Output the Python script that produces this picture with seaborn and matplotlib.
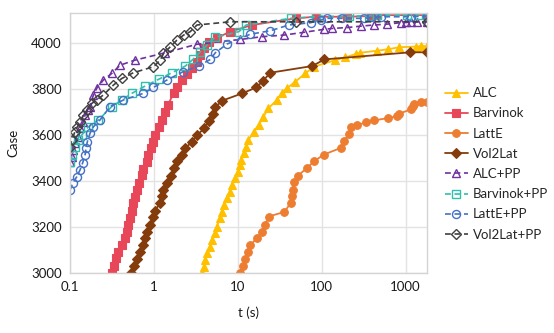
import matplotlib
matplotlib.use("Agg")
import matplotlib.pyplot as plt
import seaborn as sns
import pandas as pd

# Solver time (s) vs. number of solved cases
alc_t = [3.74, 3.91, 4.09, 4.35, 4.68, 4.99, 5.36, 5.61, 6.13, 6.41, 6.83, 7.34, 7.99, 8.52,
         9.32, 9.93, 10.5, 11.0, 11.7, 12.5, 13.4, 15.4, 17.7, 20.2, 23.2, 29.2, 33.6, 38.5,
         48.5, 63.9, 80.7, 146, 192, 253, 285, 462, 609, 840, 1330, 1530, 1800]
alc_v = [3000, 3026, 3055, 3085, 3111, 3143, 3172, 3201, 3237, 3266, 3295, 3324, 3353, 3382,
         3411, 3440, 3469, 3491, 3520, 3549, 3578, 3615, 3644, 3680, 3717, 3753, 3785, 3804,
         3833, 3869, 3898, 3927, 3939, 3953, 3959, 3968, 3974, 3983, 3986, 3988, 3988]

barvinok_t = [0.320, 0.336, 0.352, 0.378, 0.415, 0.454, 0.476, 0.497, 0.521, 0.546, 0.570,
              0.598, 0.627, 0.667, 0.719, 0.751, 0.825, 0.862, 0.920, 0.973, 1.036, 1.135,
              1.246, 1.364, 1.469, 1.714, 1.882, 2.16, 2.48, 2.84, 3.26, 3.57, 3.91, 4.49,
              5.66, 8.0, 14.8, 48.8, 84.5, 202, 384, 462, 1800]
barvinok_v = [3000, 3031, 3063, 3092, 3121, 3150, 3179, 3208, 3237, 3270, 3303, 3331, 3360,
              3392, 3426, 3452, 3484, 3513, 3542, 3571, 3600, 3634, 3666, 3702, 3731, 3782,
              3808, 3840, 3866, 3891, 3920, 3949, 3978, 4007, 4024, 4050, 4080, 4109, 4116,
              4116, 4119, 4123, 4123]

latte_t = [10.7, 11.5, 12.3, 13.4, 14.1, 16.9, 19.4, 21.3, 23.3, 36.0, 42.5, 44.6, 45.3,
           46.6, 52.1, 66.1, 81.3, 106, 169, 185, 212, 222, 267, 337, 423, 612, 794, 846,
           1160, 1220, 1273, 1530, 1800]
latte_v = [3000, 3029, 3058, 3092, 3121, 3150, 3179, 3209, 3245, 3265, 3303, 3333, 3362,
           3394, 3423, 3455, 3486, 3515, 3544, 3573, 3605, 3634, 3644, 3655, 3664, 3674,
           3682, 3694, 3712, 3726, 3734, 3744, 3744]

vol2lat_t = [0.53, 0.58, 0.626, 0.685, 0.74, 0.787, 0.837, 0.90, 0.97, 1.04, 1.17, 1.25, 1.30,
             1.43, 1.59, 1.75, 1.91, 2.16, 2.36, 2.84, 3.26, 3.99, 4.49, 5.01, 5.39, 6.5,
             11.3, 16.7, 20.0, 24.5, 77, 108, 1141, 1790]
vol2lat_v = [3000, 3029, 3058, 3092, 3121, 3150, 3179, 3209, 3242, 3271, 3303, 3333, 3362,
             3391, 3420, 3457, 3486, 3511, 3542, 3571, 3600, 3629, 3661, 3690, 3721, 3750,
             3782, 3808, 3837, 3872, 3901, 3930, 3961, 3961]

alc_pp_t = [0.1, 0.1048, 0.1095, 0.1147, 0.1257, 0.1317, 0.144, 0.151, 0.1654, 0.1734, 0.190,
            0.208, 0.25, 0.315, 0.396, 0.598, 1.364, 3.26, 10.7, 19.5, 35.3, 61.3, 106, 134,
            202, 292, 420, 608, 875, 1000, 1165, 1370, 1800]
alc_pp_v = [3484, 3506, 3535, 3564, 3593, 3629, 3658, 3687, 3710, 3724, 3775, 3804, 3840,
            3869, 3905, 3927, 3959, 3996, 4017, 4029, 4036, 4048, 4061, 4065, 4069, 4075,
            4080, 4084, 4090, 4091, 4093, 4094, 4094]

barvinok_pp_t = [0.1, 0.1048, 0.1147, 0.1257, 0.138, 0.1654, 0.218, 0.315, 0.415, 0.546,
                 0.787, 1.135, 1.64, 2.37, 2.92, 3.57, 4.30, 5.30, 10.3, 12.6, 42.5, 84.5,
                 211, 366, 462, 1054, 1387, 1800]
barvinok_pp_v = [3483, 3513, 3549, 3578, 3600, 3636, 3666, 3724, 3753, 3782, 3814, 3843,
                 3872, 3901, 3930, 3963, 3992, 4026, 4051, 4080, 4109, 4116, 4119, 4119,
                 4123, 4123, 4123, 4127]

latte_pp_t = [0.1, 0.1077, 0.1202, 0.1317, 0.1419, 0.151, 0.1553, 0.161, 0.1734, 0.190,
              0.228, 0.30, 0.433, 0.751, 0.989, 1.43, 2.22, 3.41, 4.71, 5.40, 7.45, 14.1,
              24.5, 40.6, 73.7, 97, 117, 176, 319, 384, 505, 1153, 1800]
latte_pp_v = [3360, 3390, 3418, 3448, 3480, 3513, 3542, 3571, 3608, 3636, 3666, 3724, 3753,
              3782, 3808, 3840, 3876, 3901, 3930, 3959, 3997, 4040, 4055, 4080, 4090, 4101,
              4109, 4109, 4109, 4113, 4116, 4116, 4119]

vol2lat_pp_t = [0.1, 0.1048, 0.1147, 0.1222, 0.1317, 0.144, 0.161, 0.1816, 0.2084, 0.25,
                0.329, 0.415, 0.570, 0.989, 1.19, 1.30, 1.57, 1.88, 2.26, 2.71, 3.26, 8.15,
                48.8, 1800]
vol2lat_pp_v = [3549, 3578, 3615, 3636, 3658, 3687, 3709, 3738, 3753, 3775, 3818, 3847, 3872,
                3898, 3927, 3956, 3985, 4014, 4036, 4051, 4080, 4094, 4094, 4094]

x_ticks = [0.1, 1, 10, 100, 1000]
x_tick_labels = ["0.1", "1", "10", "100", "1000"]
y_ticks = [3000, 3200, 3400, 3600, 3800, 4000]

series = [
    ("ALC", alc_t, alc_v, "#FFC000", "^", "-", True),
    ("Barvinok", barvinok_t, barvinok_v, "#E8475A", "s", "-", True),
    ("LattE", latte_t, latte_v, "#ED7D31", "o", "-", True),
    ("Vol2Lat", vol2lat_t, vol2lat_v, "#843C0C", "D", "-", True),
    ("ALC+PP", alc_pp_t, alc_pp_v, "#7030A0", "^", "--", False),
    ("Barvinok+PP", barvinok_pp_t, barvinok_pp_v, "#2FBFAD", "s", "--", False),
    ("LattE+PP", latte_pp_t, latte_pp_v, "#4472C4", "o", "--", False),
    ("Vol2Lat+PP", vol2lat_pp_t, vol2lat_pp_v, "#404040", "D", "--", False),
]

sns.set_theme(style="white")
plt.rcParams["font.family"] = ["Lato", "DejaVu Sans"]

fig = plt.figure(figsize=(5.54, 3.33), dpi=100)
ax = fig.add_axes([70 / 554, 1 - 272.7 / 333, (427 - 70) / 554, (272.7 - 13.3) / 333])

for name, t, v, color, marker, ls, filled in series:
    df = pd.DataFrame({"t": t, "Case": v})
    if filled:
        size = 5.5 if marker != "D" else 5
        kw = dict(markerfacecolor=color, markeredgecolor=color, markersize=size,
                  markeredgewidth=0.8)
    else:
        size = 5.8 if marker != "D" else 4.6
        kw = dict(markerfacecolor="none", markeredgecolor=color, markersize=size,
                  markeredgewidth=1.0)
    sns.lineplot(data=df, x="t", y="Case", ax=ax, color=color, marker=marker,
                 linestyle=ls, linewidth=1.2 if ls == "--" else 1.3, estimator=None,
                 sort=False, label=name, dashes=False, **kw)
    if ls == "--":
        ax.lines[-1].set_dashes([3.5, 2.2])

ax.set_xscale("log")
ax.set_xlim(0.1, 1800)
ax.set_ylim(3000, 4131)
ax.set_xticks(x_ticks)
ax.set_xticklabels(x_tick_labels)
ax.set_yticks(y_ticks)
ax.minorticks_off()
ax.tick_params(axis="both", labelsize=9.5, colors="#1a1a1a", length=0, pad=6)
ax.grid(True, color="#e3e3e3", linewidth=1.0)
ax.set_axisbelow(True)
for sp in ax.spines.values():
    sp.set_color("#d4d4d4")
    sp.set_linewidth(1.0)
ax.set_xlabel("t (s)", fontsize=9.5, color="#1a1a1a", labelpad=10)
ax.set_ylabel("Case", fontsize=9.5, color="#1a1a1a", labelpad=8)

handles, labels = ax.get_legend_handles_labels()
ax.get_legend().remove()
fig.legend(handles, labels, loc="upper left", bbox_to_anchor=(440 / 554, 1 - 82 / 333),
           frameon=False, fontsize=9.5, handlelength=1.7, handletextpad=0.4,
           labelspacing=0.62, borderaxespad=0)

fig.savefig("out.png", dpi=100)
